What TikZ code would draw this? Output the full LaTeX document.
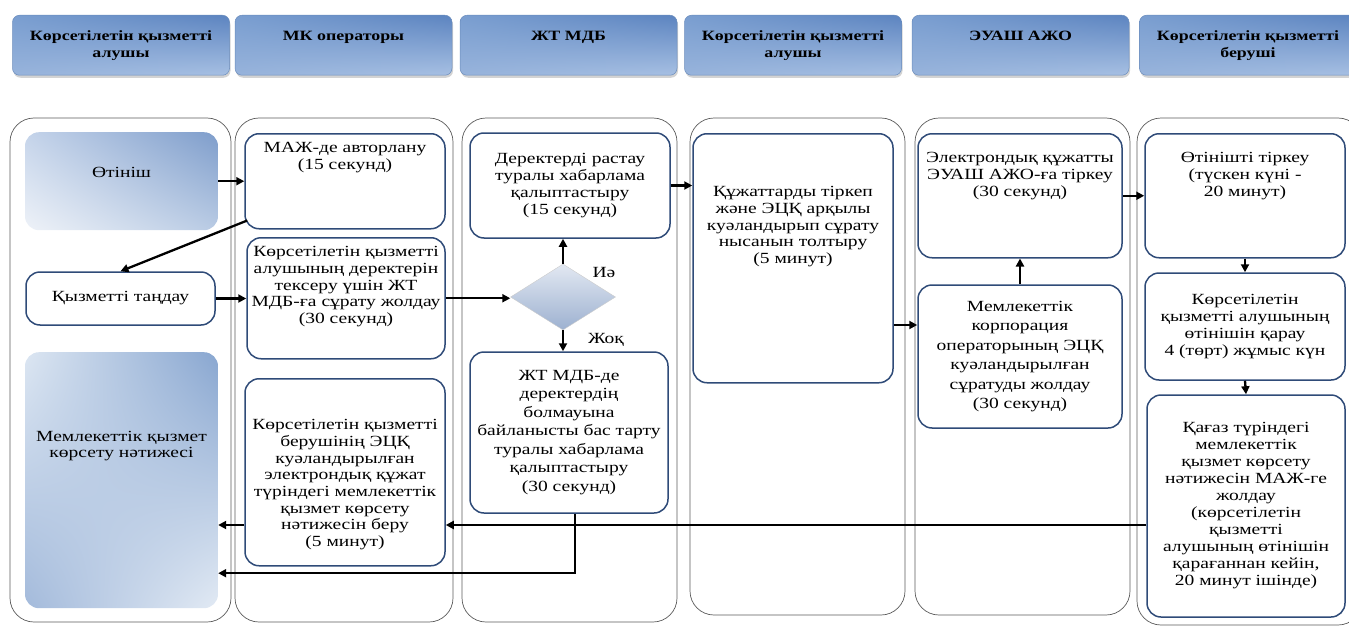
\documentclass[tikz,border=0pt]{standalone}
\usepackage{fontspec}
\setmainfont{Liberation Serif}[FakeStretch=1.26]
\usetikzlibrary{arrows.meta,shapes.geometric,shadows,shadings}

\definecolor{boxline}{HTML}{2F4B78}
\definecolor{laneline}{HTML}{5A5A5A}
\definecolor{headA}{HTML}{7A9ED0}
\definecolor{headB}{HTML}{5C84C0}
\definecolor{headC}{HTML}{97B3DB}
\definecolor{headD}{HTML}{A7C0E3}
\definecolor{headline}{HTML}{6A8CBC}
\definecolor{appA}{HTML}{C5D4EA}
\definecolor{appB}{HTML}{7E9DCB}
\definecolor{appC}{HTML}{EEF2F8}
\definecolor{appD}{HTML}{B9CBE4}
\definecolor{resA}{HTML}{DCE6F2}
\definecolor{resB}{HTML}{88A6D0}
\definecolor{resC}{HTML}{A3BADB}
\definecolor{resD}{HTML}{E2EAF4}
\definecolor{rombA}{HTML}{E2E8F2}
\definecolor{rombB}{HTML}{9DB1D0}

\tikzset{
  lane/.style={draw=laneline,line width=0.7pt,rounded corners=24pt},
  head/.style={anchor=north,rounded corners=7pt,draw=headline,line width=0.5pt,
    upper left=headA,upper right=headB,lower left=headC,lower right=headD,
    drop shadow={shadow xshift=1pt,shadow yshift=-2.5pt,opacity=0.35},
    font=\fontsize{14.2}{17.5}\selectfont\bfseries,align=center,
    minimum width=217pt,inner sep=4pt,text height=21pt,text depth=31pt},
  headtwo/.style={head,text height=38.5pt,text depth=13.5pt},
  procbox/.style={draw=boxline,line width=1.5pt,rounded corners=14pt,fill=white,
    align=center,inner sep=4pt},
  shadebox/.style={rounded corners=14pt,align=center,inner sep=4pt,minimum width=193pt},
  topbox/.style 2 args={anchor=north,text height=#1,text depth=#2},
  flow/.style={line width=2.3pt,-{Triangle[length=8pt,width=8pt]}}
}

\begin{document}
\begin{tikzpicture}[x=1pt,y=-1pt,font=\fontsize{15.5}{16.7}\selectfont]
  \useasboundingbox (0,0) rectangle (1349,626);

  % swimlanes
  \node[lane,minimum width=221pt,minimum height=504pt] (lane1) at (120.5,370) {};
  \node[lane,minimum width=218pt,minimum height=504pt] (lane2) at (344,370) {};
  \node[lane,minimum width=215pt,minimum height=504pt] (lane3) at (569.5,370) {};
  \node[lane,minimum width=215pt,minimum height=497pt] (lane4) at (797.5,366.5) {};
  \node[lane,minimum width=215pt,minimum height=497pt] (lane5) at (1022.5,366.5) {};
  \node[lane,minimum width=225pt,minimum height=507pt] (lane6) at (1249.5,371.5) {};

  % headers
  \node[headtwo] (h1) at (121,15) {Көрсетілетін қызметті\\алушы};
  \node[head] (h2) at (343.5,15) {МК операторы};
  \node[head] (h3) at (568.5,15) {ЖТ МДБ};
  \node[headtwo] (h4) at (793,15) {Көрсетілетін қызметті\\алушы};
  \node[head] (h5) at (1020.5,15) {ЭУАШ АЖО};
  \node[headtwo] (h6) at (1248,15) {Көрсетілетін қызметті\\беруші};

  % lane 1
  \node[shadebox,topbox={41pt}{49pt},
    upper left=appA,upper right=appB,lower left=appC,lower right=appD]
    (otinish) at (121.5,132) {Өтініш};
  \node[procbox,minimum width=189pt,minimum height=53pt] (tandau) at (120.5,298.5) {Қызметті таңдау};
  \node[shadebox,topbox={101.7pt}{146.3pt},
    upper left=resA,upper right=resB,lower left=resC,lower right=resD]
    (natije) at (121.5,352) {Мемлекеттік қызмет\\көрсету нәтижесі};

  % lane 2
  \node[procbox,minimum width=200pt,topbox={31.7pt}{55.3pt}] (maj) at (345,133)
    {МАЖ-де авторлану\\(15 секунд)};
  \node[procbox,minimum width=198pt,topbox={81.8pt}{31.2pt}] (surau) at (346,237)
    {Көрсетілетін қызметті\\алушының деректерін\\тексеру үшін ЖТ\\МДБ-ға сұрату жолдау\\(30 секунд)};
  \node[procbox,minimum width=200pt,topbox={163.9pt}{15.1pt}] (beru) at (345,378)
    {Көрсетілетін қызметті\\берушінің ЭЦҚ\\куәландырылған\\электрондық құжат\\түріндегі мемлекеттік\\қызмет көрсету\\нәтижесін беру\\(5 минут)};

  % lane 3
  \node[procbox,minimum width=200pt,minimum height=105pt] (rastau) at (570,185.5)
    {Деректерді растау\\туралы хабарлама\\қалыптастыру\\(15 секунд)};
  \node[diamond,minimum width=105pt,minimum height=66pt,inner sep=0pt,
    draw=black!20,top color=rombA,bottom color=rombB] (romb) at (563,297) {};
  \node (ia) at (604,272) {Иә};
  \node (zhok) at (606,340) {Жоқ};
  \node[procbox,minimum width=198pt,minimum height=161pt,font=\fontsize{15.5}{18.5}\selectfont]
    (bas) at (569,432.5)
    {ЖТ МДБ-де\\деректердің\\болмауына\\байланысты бас тарту\\туралы хабарлама\\қалыптастыру\\(30 секунд)};

  % lane 4
  \node[procbox,minimum width=200pt,topbox={125.8pt}{115.2pt}] (kuzhat) at (793,133)
    {Құжаттарды тіркеп\\және ЭЦҚ арқылы\\куәландырып сұрату\\нысанын толтыру\\(5 минут)};

  % lane 5
  \node[procbox,minimum width=204pt,topbox={58.4pt}{57.6pt}] (tirkeu5) at (1020,133)
    {Электрондық құжатты\\ЭУАШ АЖО-ға тіркеу\\(30 секунд)};
  \node[procbox,minimum width=204pt,minimum height=143pt,font=\fontsize{15.5}{19.5}\selectfont]
    (korp) at (1020,356.5)
    {Мемлекеттік\\корпорация\\операторының ЭЦҚ\\куәландырылған\\сұратуды жолдау\\(30 секунд)};

  % lane 6
  \node[procbox,minimum width=200pt,topbox={58.4pt}{57.6pt}] (tirkeu6) at (1245,133)
    {Өтінішті тіркеу\\(түскен күні -\\20 минут)};
  \node[procbox,minimum width=200pt,minimum height=107pt] (karau) at (1245,326.5)
    {Көрсетілетін\\қызметті алушының\\өтінішін қарау\\4 (төрт) жұмыс күн};
  \node[procbox,minimum width=198pt,minimum height=222pt,font=\fontsize{15.5}{17}\selectfont]
    (kagaz) at (1246,506)
    {Қағаз түріндегі\\мемлекеттік\\қызмет көрсету\\нәтижесін МАЖ-ге\\жолдау\\(көрсетілетін\\қызметті\\алушының өтінішін\\қарағаннан кейін,\\20 минут ішінде)};

  % helper points
  \coordinate (kin) at ([yshift=31.5pt]korp.west);
  \coordinate (ret) at ([yshift=-19pt]kagaz.west);
  \coordinate (low) at ([yshift=-93pt]natije.east);

  % arrows
  \draw[flow] (otinish.east) -- (otinish.east -| maj.west);
  \draw[flow] ([xshift=3pt,yshift=9pt]maj.south west) -- (tandau.north);
  \draw[flow] (tandau.east) -- (tandau.east -| surau.west);
  \draw[flow] (surau.east) -- (surau.east -| romb.west);
  \draw[flow] (romb.north) -- (romb.north |- rastau.south);
  \draw[flow] (romb.south) -- (romb.south |- bas.north);
  \draw[flow] (rastau.east) -- (rastau.east -| kuzhat.west);
  \draw[flow] (kin -| kuzhat.east) -- (kin);
  \draw[flow] (korp.north) -- (tirkeu5.south);
  \draw[flow] (tirkeu5.east) -- (tirkeu5.east -| tirkeu6.west);
  \draw[flow] (tirkeu6.south) -- (karau.north);
  \draw[flow] (karau.south) -- (kagaz.north);
  \draw[flow] (ret) -- (ret -| beru.east);
  \draw[flow] (ret -| beru.west) -- (ret -| natije.east);
  \draw[flow] ([xshift=6pt]bas.south) |- (low);
\end{tikzpicture}
\end{document}
